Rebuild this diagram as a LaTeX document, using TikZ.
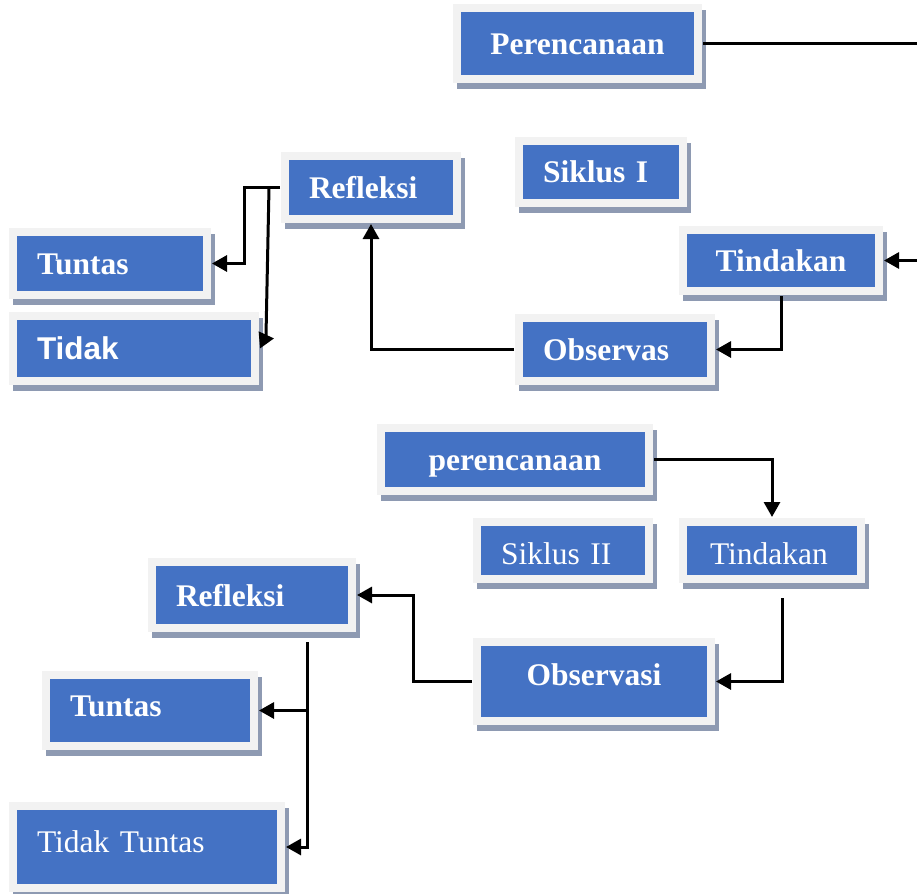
\documentclass[tikz,border=0pt]{standalone}
\usepackage{fontspec}
\setmainfont{Liberation Serif}
\setsansfont{Liberation Sans}
\usetikzlibrary{shadows,arrows.meta}
\definecolor{boxblue}{HTML}{4472C4}
\definecolor{boxrim}{HTML}{F2F2F2}
\definecolor{boxshade}{HTML}{8E9AB2}
\newcommand{\boxfont}{\fontsize{31.5pt}{36pt}\selectfont}
\tikzset{
	frame/.style={
		rectangle, fill=boxblue, draw=boxrim, line width=8pt,
		inner sep=0pt, outer sep=5pt, text=white,
		text height=22pt, text depth=0pt,
		font=\boxfont\bfseries,
		drop shadow={shadow xshift=4pt, shadow yshift=-6pt, fill=boxshade, draw=boxshade, line width=8pt, opacity=1},
	},
	lframe/.style={frame, inner xsep=24pt, align=left},
	cframe/.style={frame, align=center},
	line/.style={
		draw, line width=3pt, -{Triangle[length=15pt,width=16pt]},
	}
}
\begin{document}
\begin{tikzpicture}[x=1pt,y=-1pt]
		\useasboundingbox (0,0) rectangle (917,893);
		
		% siklus I
		\node [cframe, minimum width=241pt, minimum height=71pt] (per1) at (577.5,43.5) {Perencanaan};
		\node [lframe, minimum width=164pt, minimum height=62pt, text width=116pt] (sik1) at (601,172) {Siklus I};
		\node [lframe, minimum width=172pt, minimum height=63pt, text width=124pt] (ref1) at (371,187.5) {Refleksi};
		\node [lframe, minimum width=194pt, minimum height=63pt, text width=146pt] (tun1) at (110,263.5) {Tuntas};
		\node [lframe, minimum width=242pt, minimum height=65pt, text width=194pt, font=\boxfont\sffamily\bfseries] (tid1) at (134,348.5) {Tidak};
		\node [cframe, minimum width=196pt, minimum height=61pt] (tin1) at (781,260.5) {Tindakan};
		\node [lframe, minimum width=192pt, minimum height=63pt, text width=144pt] (obs1) at (615,349.5) {Observas};
		
		% siklus II
		\node [cframe, minimum width=268pt, minimum height=63pt] (per2) at (515,459.5) {perencanaan};
		\node [lframe, minimum width=172pt, minimum height=57pt, text width=124pt, text height=28pt, font=\boxfont] (sik2) at (563,550.5) {Siklus II};
		\node [lframe, minimum width=178pt, minimum height=57pt, inner xsep=27pt, text width=124pt, text height=28pt, font=\boxfont] (tin2) at (772,550.5) {Tindakan};
		\node [lframe, minimum width=200pt, minimum height=66pt, text width=152pt] (ref2) at (252,595) {Refleksi};
		\node [lframe, minimum width=208pt, minimum height=71pt, text width=160pt, text depth=10pt] (tun2) at (150,710.5) {Tuntas};
		\node [lframe, minimum width=268pt, minimum height=82pt, text width=220pt, text depth=12pt, font=\boxfont] (tt2) at (147,847) {Tidak Tuntas};
		\node [cframe, minimum width=234pt, minimum height=79pt, text depth=14pt] (obs2) at (594,681.5) {Observasi};
		
		\path [line] (per1.east) -- ++(240,0) |- (tin1.east);
		\path [line] (tin1.south) |- (obs1.east);
		\path [line] (obs1.west) -| (ref1.south);
		\path [line] (ref1.west) -- ++(-36,0) |- (tun1.east);
		\path [line] ([xshift=-11pt]ref1.west) -- ++(-3,148) -- (tid1.east);
		
		\path [line] (per2.east) -| (tin2.north);
		\path [line] ([xshift=10pt,yshift=-14pt]tin2.south) |- (obs2.east);
		\path [line] (obs2.west) -- ++(-59,0) |- (ref2.east);
		\path [line] ([xshift=55pt,yshift=-9pt]ref2.south) |- (tun2.east);
		\path [line] ([xshift=55pt,yshift=-9pt]ref2.south) |- (tt2.east);
\end{tikzpicture}
\end{document}
